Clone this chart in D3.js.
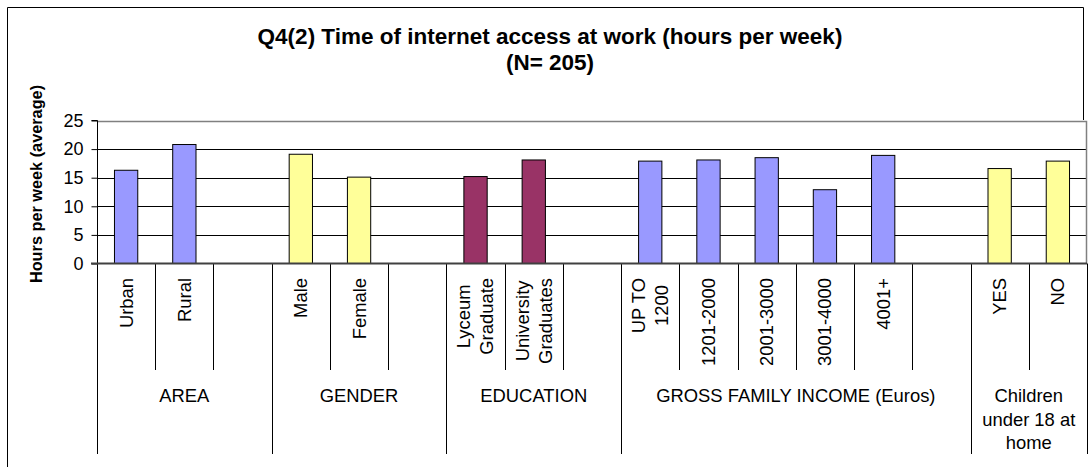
<!DOCTYPE html>
<html>
<head>
<meta charset="utf-8">
<script src="https://cdn.jsdelivr.net/npm/d3@7"></script>
<style>
  html, body { margin: 0; padding: 0; background: #fff; }
  svg { display: block; font-family: Arial, "Liberation Sans", sans-serif; }
</style>
</head>
<body>
<svg id="chart" width="1091" height="467"></svg>
<script>
// ---- data ----
const categories = ["Urban", "Rural", "", "Male", "Female", "", "Lyceum\nGraduate", "University\nGraduates", "",
  "UP TO\n1200", "1201-2000", "2001-3000", "3001-4000", "4001+", "", "YES", "NO"];
const values = [16.3, 20.8, null, 19.1, 15.1, null, 15.2, 18.1, null, 17.9, 18.1, 18.5, 12.9, 18.9, null, 16.6, 17.9];
const groupNames = ["AREA", "GENDER", "EDUCATION", "GROSS FAMILY INCOME (Euros)", "Children\nunder 18 at\nhome"];
const groupSizes = [3, 3, 3, 6, 2];
const groupColors = ["#9999FF", "#FFFF99", "#993366", "#9999FF", "#FFFF99"];
const yTicks = [0, 5, 10, 15, 20, 25];
const titleLines = ["Q4(2) Time of internet access at work (hours per week)", "(N= 205)"];
const yTitle = "Hours per week (average)";

// ---- layout ----
const svg = d3.select("#chart");
const plotL = 97, plotR = 1087, plotT = 120.5, plotB = 263.5;
const x = d3.scaleBand().domain(d3.range(categories.length)).range([plotL, plotR]).paddingInner(0).paddingOuter(0);
const y = d3.scaleLinear().domain([0, 25]).range([plotB, plotT]);
const step = x.step();
const barW = step / 2.5;

// group index for each slot
const slotGroup = [];
groupSizes.forEach((s, gi) => { for (let k = 0; k < s; k++) slotGroup.push(gi); });
const groupStart = [];
let acc = 0;
groupSizes.forEach(s => { groupStart.push(acc); acc += s; });

// outer frame
svg.append("rect").attr("x", 0).attr("y", 0).attr("width", 1091).attr("height", 467).attr("fill", "#fff");
svg.append("path").attr("d", "M7.5,467 V7.5 H1083.5 V120").attr("fill", "none").attr("stroke", "#000").attr("stroke-width", 1);

// gridlines
svg.append("g").selectAll("line").data(yTicks.filter(t => t > 0 && t < 25)).join("line")
  .attr("x1", plotL).attr("x2", plotR)
  .attr("y1", d => Math.round(y(d)) + 0.5).attr("y2", d => Math.round(y(d)) + 0.5)
  .attr("stroke", "#000").attr("stroke-width", 1);

// plot top/right border
svg.append("path")
  .attr("d", `M${plotL},${Math.round(plotT) + 0.5} H${plotR - 0.5} V${plotB}`)
  .attr("fill", "none").attr("stroke", "#808080").attr("stroke-width", 1.5);

// bars
const barData = values.map((v, i) => ({ v, i })).filter(d => d.v != null);
svg.append("g").selectAll("rect").data(barData).join("rect")
  .attr("x", d => x(d.i) + (step - barW) / 2)
  .attr("y", d => y(d.v))
  .attr("width", barW)
  .attr("height", d => y(0) - y(d.v))
  .attr("fill", d => groupColors[slotGroup[d.i]])
  .attr("stroke", "#000").attr("stroke-width", 1);

// y axis
const yAxis = d3.axisLeft(y).tickValues(yTicks).tickSize(6).tickPadding(8).tickFormat(d3.format("d"));
const yg = svg.append("g").attr("transform", `translate(${plotL + 0.5},0)`).call(yAxis);
yg.select(".domain").attr("stroke", "#000").attr("d", `M-6,${plotT}H0V${plotB}`);
yg.selectAll(".tick line").attr("stroke", "#000");
yg.selectAll(".tick text").attr("font-size", 18).attr("fill", "#000").attr("font-family", "Arial, 'Liberation Sans', sans-serif");

// category axis: separators
const bounds = d3.range(categories.length + 1).map(i => ({
  i, xp: i < categories.length ? x(i) : plotR,
  long: groupStart.includes(i) || i === categories.length
}));
svg.append("g").selectAll("line").data(bounds).join("line")
  .attr("x1", d => Math.round(d.xp) + 0.5).attr("x2", d => Math.round(d.xp) + 0.5)
  .attr("y1", plotB).attr("y2", d => d.long ? 454 : 370)
  .attr("stroke", "#000").attr("stroke-width", 1);

// zero line
svg.append("line").attr("x1", plotL - 6).attr("x2", plotR).attr("y1", plotB).attr("y2", plotB)
  .attr("stroke", "#404040").attr("stroke-width", 2);

// category labels (rotated)
const labelFS = 18.4, labelLH = 23, labelTop = 278;
const catG = svg.append("g");
categories.forEach((c, i) => {
  if (!c) return;
  const lines = c.split("\n");
  const cx = x(i) + step / 2;
  const t = catG.append("text").attr("font-size", labelFS).attr("fill", "#000").attr("text-anchor", "middle");
  lines.forEach((ln, k) => {
    t.append("tspan").attr("x", 0).attr("y", (k - (lines.length - 1) / 2) * labelLH).attr("dy", "0.35em").text(ln);
  });
  let maxLen = 0;
  t.selectAll("tspan").each(function () { maxLen = Math.max(maxLen, this.getComputedTextLength()); });
  t.attr("transform", `translate(${cx},${labelTop + maxLen / 2}) rotate(-90)`);
});

// group labels
const grpG = svg.append("g");
groupNames.forEach((g, gi) => {
  const x0 = x(groupStart[gi]);
  const x1 = groupStart[gi] + groupSizes[gi] < categories.length ? x(groupStart[gi] + groupSizes[gi]) : plotR;
  const t = grpG.append("text").attr("font-size", 18.4).attr("fill", "#000").attr("text-anchor", "middle");
  g.split("\n").forEach((ln, k) => {
    t.append("tspan").attr("x", (x0 + x1) / 2).attr("y", 402 + k * 23.5).text(ln);
  });
});

// title
const tt = svg.append("text").attr("text-anchor", "middle").attr("font-weight", "bold").attr("font-size", 22.5).attr("fill", "#000");
titleLines.forEach((ln, k) => tt.append("tspan").attr("x", 550).attr("y", 44 + k * 26).text(ln));

// y title
svg.append("text").attr("transform", "translate(36,184) rotate(-90)")
  .attr("text-anchor", "middle").attr("dy", "0.35em")
  .attr("font-weight", "bold").attr("font-size", 16.3).attr("fill", "#000").text(yTitle);
</script>
</body>
</html>
